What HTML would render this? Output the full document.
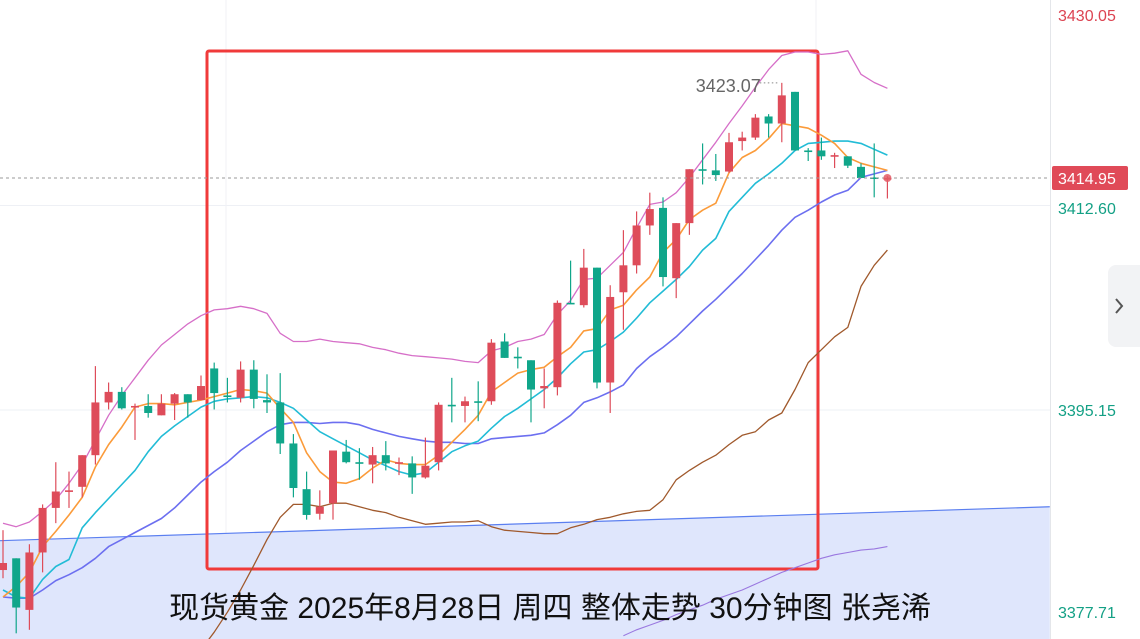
<!DOCTYPE html>
<html><head><meta charset="utf-8">
<style>
html,body{margin:0;padding:0;background:#fff;width:1140px;height:639px;overflow:hidden;font-family:"Liberation Sans","Noto Sans CJK SC",sans-serif}
#chart{position:absolute;left:0;top:0}
</style></head>
<body>
<svg id="chart" width="1140" height="639" viewBox="0 0 1140 639" xmlns="http://www.w3.org/2000/svg"></svg>
<script>
// OHLC data [open, high, low, close]
const opens  = [3381.5,3382.5,3378.1,3383.0,3386.8,3388.2,3388.6,3391.3,3395.8,3396.7,3395.4,3395.5,3394.7,3395.7,3396.5,3396.0,3398.7,3396.4,3396.2,3398.6,3396.0,3395.8,3392.3,3388.4,3386.3,3387.2,3391.6,3390.7,3390.5,3391.3,3390.6,3390.6,3389.4,3390.7,3395.6,3395.5,3395.9,3395.9,3401.0,3399.7,3399.4,3397.0,3397.1,3404.3,3404.1,3407.3,3397.5,3405.2,3407.5,3410.9,3412.4,3406.4,3411.1,3415.7,3415.6,3415.5,3418.1,3418.4,3420.2,3419.6,3422.3,3417.3,3417.3,3416.8,3416.8,3415.9,3415.0,3414.9];
const highs  = [3384.9,3382.5,3383.7,3387.1,3390.7,3389.9,3391.3,3398.9,3397.5,3397.1,3395.7,3396.5,3396.5,3396.6,3396.5,3398.1,3399.2,3397.9,3399.3,3399.4,3398.2,3398.3,3393.1,3389.9,3388.3,3391.7,3392.6,3391.9,3392.0,3392.5,3391.1,3391.2,3392.8,3395.8,3397.9,3396.3,3397.6,3401.2,3401.7,3400.5,3399.4,3398.7,3404.5,3407.9,3408.9,3407.3,3405.8,3410.5,3412.1,3413.7,3413.3,3411.1,3415.7,3417.9,3417.0,3418.8,3418.9,3420.4,3420.4,3423.07,3422.3,3417.5,3418.4,3417.1,3416.8,3416.2,3417.9,3415.1];
const lows   = [3380.8,3376.1,3376.4,3381.3,3385.5,3386.8,3387.7,3390.5,3395.2,3395.2,3392.6,3394.5,3394.7,3394.3,3394.5,3396.0,3395.2,3395.8,3395.8,3395.3,3394.9,3391.4,3387.7,3385.8,3385.8,3385.8,3390.6,3389.2,3388.9,3390.0,3389.6,3388.0,3389.3,3390.0,3394.1,3394.1,3394.2,3395.6,3399.6,3398.7,3394.1,3395.3,3396.4,3404.2,3403.9,3397.0,3394.9,3402.0,3406.8,3410.1,3405.7,3404.7,3410.1,3414.4,3414.7,3415.4,3417.3,3418.2,3418.4,3418.0,3417.3,3416.4,3416.5,3415.8,3415.8,3414.95,3413.3,3413.2];
const closes = [3382.1,3378.3,3383.0,3386.8,3388.2,3388.3,3391.3,3395.8,3396.7,3395.3,3395.5,3394.9,3395.7,3396.5,3395.8,3397.2,3396.6,3396.3,3398.6,3396.1,3395.8,3392.3,3388.5,3386.2,3386.9,3391.7,3390.7,3390.6,3391.3,3390.6,3390.7,3389.4,3390.4,3395.6,3395.5,3395.9,3395.8,3400.9,3399.6,3399.6,3396.9,3397.2,3404.3,3404.2,3407.3,3397.5,3404.8,3407.5,3410.9,3412.3,3406.5,3411.1,3415.7,3415.6,3415.2,3418.0,3418.4,3420.1,3419.6,3422.0,3417.3,3417.2,3416.8,3416.9,3416.0,3414.95,3414.9,3414.95];
// moving averages / bands
const ma5  = [3379.2,3380.1,3381.3,3383.5,3384.8,3386.2,3387.7,3390.3,3392.2,3393.7,3395.4,3395.7,3395.7,3395.6,3395.8,3396.0,3396.3,3396.6,3396.9,3396.8,3396.6,3395.3,3394.1,3391.5,3389.9,3389.0,3388.9,3389.3,3390.2,3390.9,3390.6,3390.5,3390.5,3391.3,3392.4,3393.5,3394.7,3396.7,3397.5,3398.3,3398.6,3398.8,3399.7,3400.5,3401.9,3402.1,3403.7,3404.1,3405.4,3406.5,3408.6,3409.7,3411.4,3412.2,3412.8,3415.4,3416.7,3417.3,3418.3,3419.6,3419.4,3419.2,3418.6,3417.9,3416.7,3416.2,3415.9,3415.6];
const ma10 = [3379.8,3379.2,3379.1,3380.7,3381.8,3382.4,3385.1,3386.4,3387.6,3388.8,3390.0,3391.6,3392.9,3393.8,3394.6,3395.4,3395.9,3396.1,3396.2,3396.3,3396.2,3395.8,3395.3,3394.3,3393.3,3392.7,3392.1,3391.5,3390.9,3390.4,3389.9,3389.6,3389.8,3390.7,3391.6,3392.1,3392.5,3393.6,3394.6,3395.3,3396.1,3396.9,3397.9,3399.1,3400.1,3400.3,3401.0,3401.8,3403.0,3404.3,3405.3,3406.3,3407.4,3408.8,3409.8,3412.1,3413.3,3414.5,3415.3,3416.2,3417.3,3417.9,3418.0,3418.1,3418.1,3417.9,3417.4,3416.9];
const ma20 = [3379.2,3379.1,3379.1,3379.8,3380.6,3381.1,3381.7,3382.5,3383.5,3384.1,3384.7,3385.3,3385.9,3386.8,3387.9,3389.0,3389.9,3390.7,3391.7,3392.5,3393.3,3393.9,3394.1,3394.1,3394.0,3394.1,3394.1,3393.9,3393.5,3393.2,3392.9,3392.7,3392.5,3392.4,3392.4,3392.3,3392.3,3392.7,3392.8,3392.9,3393.0,3393.2,3393.9,3394.7,3395.8,3396.2,3396.7,3397.3,3398.7,3399.7,3400.5,3401.4,3402.5,3403.6,3404.6,3405.7,3406.8,3408.0,3409.2,3410.5,3411.6,3412.2,3412.9,3413.5,3413.9,3415.0,3415.3,3415.6];
const bollUpper = [3385.5,3385.2,3385.6,3386.5,3387.5,3388.9,3390.5,3392.6,3394.7,3396.4,3397.9,3399.4,3400.7,3401.6,3402.5,3403.2,3403.7,3403.8,3404.0,3403.8,3403.4,3401.7,3401.0,3401.0,3401.2,3401.0,3400.9,3400.8,3400.5,3400.3,3400.0,3399.8,3399.7,3399.6,3399.5,3399.3,3399.2,3400.2,3400.5,3401.0,3401.2,3401.6,3403.3,3404.5,3406.3,3406.4,3407.5,3408.6,3410.7,3412.7,3412.9,3413.7,3415.0,3416.5,3418.0,3419.6,3421.1,3422.7,3424.2,3425.4,3425.7,3425.7,3425.5,3425.6,3425.8,3423.8,3423.1,3422.6];
const bollLowerStart = 15;
const bollLower = [3374.7,3376.2,3377.9,3379.8,3381.9,3384.1,3386.0,3387.1,3387.1,3386.9,3387.2,3387.2,3386.9,3386.6,3386.4,3386.0,3385.7,3385.4,3385.5,3385.6,3385.6,3385.7,3385.2,3384.9,3384.8,3384.7,3384.6,3384.6,3385.1,3385.4,3385.8,3386.0,3386.3,3386.5,3386.6,3387.5,3389.2,3390.0,3390.7,3391.3,3392.2,3393.0,3393.3,3394.3,3394.9,3396.9,3399.2,3400.3,3401.4,3402.2,3405.7,3407.5,3408.8];
const outerLowerStart = 47;
const outerLower = [3375.9,3376.4,3376.8,3377.2,3377.7,3378.1,3378.5,3379.0,3379.4,3379.8,3380.3,3380.8,3381.3,3381.7,3382.1,3382.5,3382.8,3383.0,3383.2,3383.3,3383.5];
const trendIdx = [-0.3, 79.3];
const trendPrice = [3384.0, 3386.9];
const axisLabels = ["3430.05","3412.60","3395.15","3377.71"];
const axisValues = [3430.05,3412.60,3395.15,3377.71];
const gridValues = [3412.60,3395.15];
const lastPrice = 3414.95;
const highLabel = "3423.07";
const highIndex = 59;

const NS="http://www.w3.org/2000/svg";
const svg=document.getElementById('chart');
const PLOT_W=1050;
function X(i){return 3+i*13.2;}
function Y(p){return 178+(3414.95-p)*11.72;}
function mk(tag,attrs,parent){const e=document.createElementNS(NS,tag);for(const k in attrs)e.setAttribute(k,attrs[k]);(parent||svg).appendChild(e);return e;}

const plot=mk('g',{'clip-path':'url(#pc)'});


const defs=mk('defs',{});
const cp=mk('clipPath',{id:'pc'},defs);mk('rect',{x:0,y:0,width:PLOT_W,height:639},cp);

// grid
gridValues.forEach(v=>{mk('line',{x1:0,x2:PLOT_W,y1:Y(v),y2:Y(v),stroke:'#eef0f5','stroke-width':1},plot);});
[226,816].forEach(x=>{mk('line',{x1:x,x2:x,y1:0,y2:639,stroke:'#f0f2f6','stroke-width':1},plot);});

// trend line + fill
const tx1=X(trendIdx[0]),tx2=X(trendIdx[1]),ty1=Y(trendPrice[0]),ty2=Y(trendPrice[1]);
const fill=mk('polygon',{points:`${tx1},${ty1} ${tx2},${ty2} ${tx2},639 ${tx1},639`,fill:'#dfe6fc'},plot);


const tl=mk('line',{x1:tx1,y1:ty1,x2:tx2,y2:ty2,stroke:'#5b7ff0','stroke-width':1.2},plot);



// red highlight box
const box=mk('rect',{x:207,y:51,width:611,height:518,fill:'none',stroke:'#f03a3a','stroke-width':3,rx:2},plot);



function line(arr,start,color,name,w){
  const pts=arr.map((v,k)=>X(start+k).toFixed(1)+','+Y(v).toFixed(1)).join(' ');
  const p=mk('polyline',{points:pts,fill:'none',stroke:color,'stroke-width':w||1.4,'stroke-linejoin':'round'},plot);
  
  
}
line(bollUpper,0,'#d66fc8','boll-upper-line',1.3);
line(bollLower,bollLowerStart,'#a0592c','boll-lower-line',1.3);
line(outerLower,outerLowerStart,'#9a78e0','outer-lower-line',1.1);
line(ma20,0,'#6c6ff0','ma20-line',1.6);
line(ma10,0,'#22bcd6','ma10-line',1.6);
line(ma5,0,'#fb9b3a','ma5-line',1.6);

// candles
for(let i=0;i<opens.length;i++){
  const up=closes[i]>=opens[i];
  const col=up?'#de4c5a':'#10a68a';
  const g=mk('g',{},plot);
  
  
  const x=X(i);
  mk('line',{x1:x,x2:x,y1:Y(highs[i]),y2:Y(lows[i]),stroke:col,'stroke-width':1.2},g);
  const top=Y(Math.max(opens[i],closes[i])),bot=Y(Math.min(opens[i],closes[i]));
  mk('rect',{x:x-4,y:top,width:8,height:Math.max(bot-top,1.6),fill:col},g);
}
// last price dashed line & dot
const ly=Y(lastPrice);
const dl=mk('line',{x1:0,x2:PLOT_W,y1:ly,y2:ly,stroke:'#9a9a9a','stroke-width':1,'stroke-dasharray':'3,3'},plot);


const dot=mk('circle',{cx:X(opens.length-1),cy:ly,r:4,fill:'#e45a66',opacity:0.85},plot);



// high label
const hx=X(highIndex),hy=Y(highs[highIndex]);
const hd=mk('line',{x1:hx-22,x2:hx-2,y1:hy,y2:hy,stroke:'#888','stroke-width':1,'stroke-dasharray':'1.5,2.5'});


const ht=mk('text',{x:hx-21,y:hy+9,'text-anchor':'end','font-size':18,fill:'#666'});
ht.textContent=highLabel;



// axis
const ax=mk('g',{});


mk('rect',{x:PLOT_W,y:0,width:90,height:639,fill:'#fff'},ax);
mk('line',{x1:PLOT_W+0.5,x2:PLOT_W+0.5,y1:0,y2:639,stroke:'#e4e6ea','stroke-width':1},ax);
const labelY=[15,208,410,612];
axisLabels.forEach((t,k)=>{
  const e=mk('text',{x:1058,y:labelY[k]+6,'font-size':16,fill:k===0?'#dc4452':'#13a085'},ax);
  e.textContent=t;
  
  
});
const lb=mk('g',{},ax);


mk('rect',{x:1052,y:ly-12,width:76,height:24,fill:'#e04a58',rx:2},lb);
const lt=mk('text',{x:1058,y:ly+6,'font-size':16,fill:'#fff'},lb);
lt.textContent=lastPrice.toFixed(2);

// side button
const sb=mk('g',{});


mk('rect',{x:1108,y:265,width:40,height:82,rx:8,fill:'#f2f3f5'},sb);
mk('polyline',{points:'1116,299 1122,306 1116,313',fill:'none',stroke:'#555','stroke-width':2},sb);

// title
const tt=mk('text',{x:550,y:618,'text-anchor':'middle','font-size':30,fill:'#111','font-family':'"Liberation Sans","Noto Sans CJK SC",sans-serif'});
tt.textContent='现货黄金 2025年8月28日 周四 整体走势 30分钟图 张尧浠';


</script>
</body></html>
